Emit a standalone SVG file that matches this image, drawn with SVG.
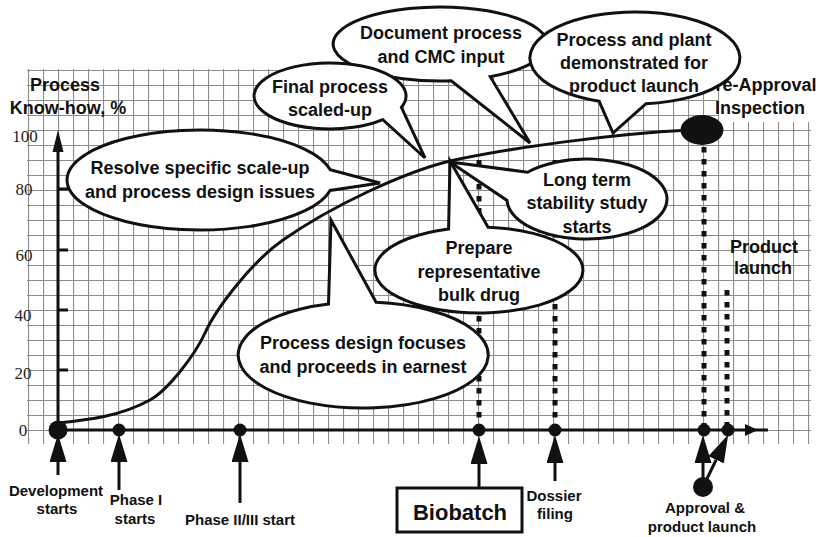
<svg xmlns="http://www.w3.org/2000/svg" width="820" height="537" viewBox="0 0 820 537">
<defs>
<style>
.t{font-family:"Liberation Sans",Arial,sans-serif;font-weight:bold;font-size:18px;text-anchor:middle;fill:#111}
.s{font-size:15px}
.n{font-family:"Liberation Serif","Times New Roman",serif;font-weight:normal;font-size:17px;text-anchor:middle;fill:#222}
.b{fill:#fff;stroke:#111;stroke-width:3;stroke-linejoin:miter}
.ln{stroke:#111;stroke-width:3;fill:none}
.dot{fill:#111}
.dash{stroke:#111;stroke-width:5;stroke-dasharray:5.5 6.5;fill:none}
</style>
<pattern id="gp" x="13" y="10" width="15" height="15" patternUnits="userSpaceOnUse">
<path d="M0,0.5H15M0.5,0V15" stroke="#8c8c8c" stroke-width="1.2" fill="none"/>
</pattern>
<pattern id="gv" x="13" y="10" width="15" height="15" patternUnits="userSpaceOnUse">
<path d="M0.5,0V15" stroke="#8c8c8c" stroke-width="1.2" fill="none"/>
</pattern>
<marker id="ah" viewBox="0 0 28 17" refX="0" refY="8.5" markerWidth="28" markerHeight="17" markerUnits="userSpaceOnUse" orient="auto">
<path d="M0,0L28,8.5L0,17Z" fill="#111"/>
</marker>
</defs>
<rect width="820" height="537" fill="#fff"/>
<g id="grid">
<rect x="27" y="69" width="692" height="362" fill="url(#gp)"/>
<rect x="719" y="122" width="92" height="309" fill="url(#gp)"/>
<rect x="27" y="431" width="784" height="13" fill="url(#gv)"/>
</g>
<g id="y-labels">
<text class="n" x="25" y="142">100</text>
<text class="n" x="24" y="195">80</text>
<text class="n" x="24" y="261">60</text>
<text class="n" x="23" y="321">40</text>
<text class="n" x="23" y="379">20</text>
<text class="n" x="23" y="436">0</text>
<text class="t" x="65" y="91">Process</text>
<text class="t" x="68" y="114">Know-how, %</text>
</g>
<g id="connectors">
<path class="dash" d="M479,160V425M555,160V425M704,147V425M727,290V425"/>
<path id="curve" class="ln" d="M58,423C88,420 120,416.5 150,400C168,390 195,355 205,333C217,306.6 253,261 283,240C333,205 405,172 450,161C510,148 610,134 690,130"/>
<path class="ln" d="M58,430H768M58,430V150M58,189H68M58,250H68M58,310H68M58,370H68"/>
<path class="dot" d="M58,130L52.5,152L63.5,152ZM745,424L758,430L745,436Z"/>
<g class="ln" marker-end="url(#ah)">
<path d="M58,475V462"/>
<path d="M119,490V462"/>
<path d="M240,503V462"/>
<path d="M479,488V464"/>
<path d="M555,481V463"/>
<path d="M703,487V463"/>
<path d="M703,487L716.1,459.8"/>
</g>
</g>
<g id="axis-points">
<circle class="dot" cx="58" cy="430" r="9.5"/>
<circle class="dot" cx="119" cy="430" r="6.5"/>
<circle class="dot" cx="240" cy="430" r="6.5"/>
<circle class="dot" cx="479" cy="430" r="6.5"/>
<circle class="dot" cx="555" cy="430" r="6.5"/>
<circle class="dot" cx="704" cy="430" r="6.5"/>
<circle class="dot" cx="728" cy="430" r="6.5"/>
<circle class="dot" cx="703" cy="487" r="10"/>
<ellipse id="pai-point" class="dot" cx="702" cy="130" rx="21.5" ry="15"/>
</g>
<g id="milestones">
<text class="t s" x="56" y="496">Development</text>
<text class="t s" x="57" y="514">starts</text>
<text class="t s" x="136" y="505">Phase I</text>
<text class="t s" x="135" y="524">starts</text>
<text class="t s" x="240" y="525">Phase II/III start</text>
<g id="biobatch">
<rect x="397" y="488" width="125" height="44" fill="#fff" stroke="#111" stroke-width="3"/>
<text class="t" style="font-size:22px" x="460" y="520">Biobatch</text>
</g>
<text class="t s" x="554" y="501">Dossier</text>
<text class="t s" x="555" y="519">filing</text>
<text class="t s" x="705" y="513">Approval &amp;</text>
<text class="t s" x="702" y="532">product launch</text>
<text class="t" x="760" y="91">Pre-Approval</text>
<text class="t" x="760" y="114">Inspection</text>
<text class="t" x="764" y="253">Product</text>
<text class="t" x="763" y="274">launch</text>
</g>
<g id="bubble-resolve">
<path class="b" d="M330.1,169.6A133,50 0 1 0 330.1,190.4L380,183Z"/>
<text class="t" x="200" y="174">Resolve specific scale-up</text>
<text class="t" x="200" y="198">and process design issues</text>
</g>
<g id="bubble-document">
<path class="b" d="M490.2,76.7A107,37 0 1 0 451.2,80.8L530,143Z"/>
<text class="t" x="441" y="39">Document process</text>
<text class="t" x="441" y="63">and CMC input</text>
</g>
<g id="bubble-final">
<path class="b" d="M401.4,107.3A76,33 0 1 0 382.8,119.7L425,158Z"/>
<text class="t" x="330" y="93">Final process</text>
<text class="t" x="330" y="116">scaled-up</text>
</g>
<g id="bubble-plant">
<path class="b" d="M646,103.7A105,46 0 1 0 599.1,101.2L613,133Z"/>
<text class="t" x="634" y="46">Process and plant</text>
<text class="t" x="634" y="69">demonstrated for</text>
<text class="t" x="634" y="92">product launch</text>
</g>
<g id="bubble-stability">
<path class="b" d="M507,200.4A80,40 0 1 0 527.6,172.2L450,162Z"/>
<text class="t" x="587" y="186">Long term</text>
<text class="t" x="587" y="209">stability study</text>
<text class="t" x="587" y="233">starts</text>
</g>
<g id="bubble-prepare">
<path class="b" d="M448.6,228.9A104,43 0 1 0 488.1,227.2L450,161Z"/>
<text class="t" x="479" y="254">Prepare</text>
<text class="t" x="479" y="278">representative</text>
<text class="t" x="479" y="301">bulk drug</text>
</g>
<g id="bubble-design">
<path class="b" d="M328.5,304.1A125,53 0 1 0 376.1,302.3L331,220Z"/>
<text class="t" x="363" y="349">Process design focuses</text>
<text class="t" x="363" y="373">and proceeds in earnest</text>
</g>
</svg>
